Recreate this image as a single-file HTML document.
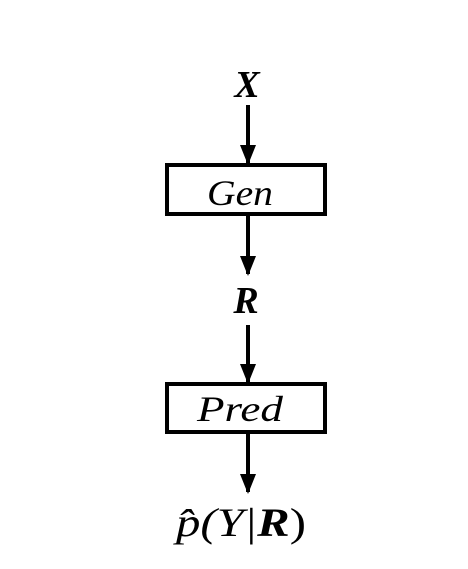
<!DOCTYPE html>
<html><head><style>
body{margin:0;background:#fff;width:468px;height:564px;overflow:hidden}
</style></head><body>
<svg width="468" height="564" xmlns="http://www.w3.org/2000/svg">
<defs><marker id="a" markerWidth="5" markerHeight="4" refX="4.5" refY="2" orient="auto" markerUnits="strokeWidth"><path d="M0,0 L5,2 L0,4 z" fill="#000"/></marker></defs>
<g font-family="Liberation Serif, serif" font-style="italic" text-anchor="middle" fill="#000">
<text x="247" y="97" font-size="38" font-weight="bold">X</text>
<text x="246" y="313" font-size="38" font-weight="bold">R</text>
<text x="240" y="205" font-size="36" textLength="66" lengthAdjust="spacingAndGlyphs">Gen</text>
<text x="240" y="421" font-size="36" textLength="86" lengthAdjust="spacingAndGlyphs">Pred</text>
<text x="241" y="536" font-size="40" textLength="130" lengthAdjust="spacingAndGlyphs">p̂(Y|<tspan font-weight="bold">R</tspan><tspan font-style="normal">)</tspan></text>
</g>
<g stroke="#000" stroke-width="4" fill="none">
<rect x="167" y="165" width="158" height="49"/>
<rect x="167" y="384" width="158" height="48"/>
<line x1="248" y1="105" x2="248" y2="163" marker-end="url(#a)"/>
<line x1="248" y1="216" x2="248" y2="274" marker-end="url(#a)"/>
<line x1="248" y1="325" x2="248" y2="382" marker-end="url(#a)"/>
<line x1="248" y1="434" x2="248" y2="492" marker-end="url(#a)"/>
</g>
</svg>
</body></html>
